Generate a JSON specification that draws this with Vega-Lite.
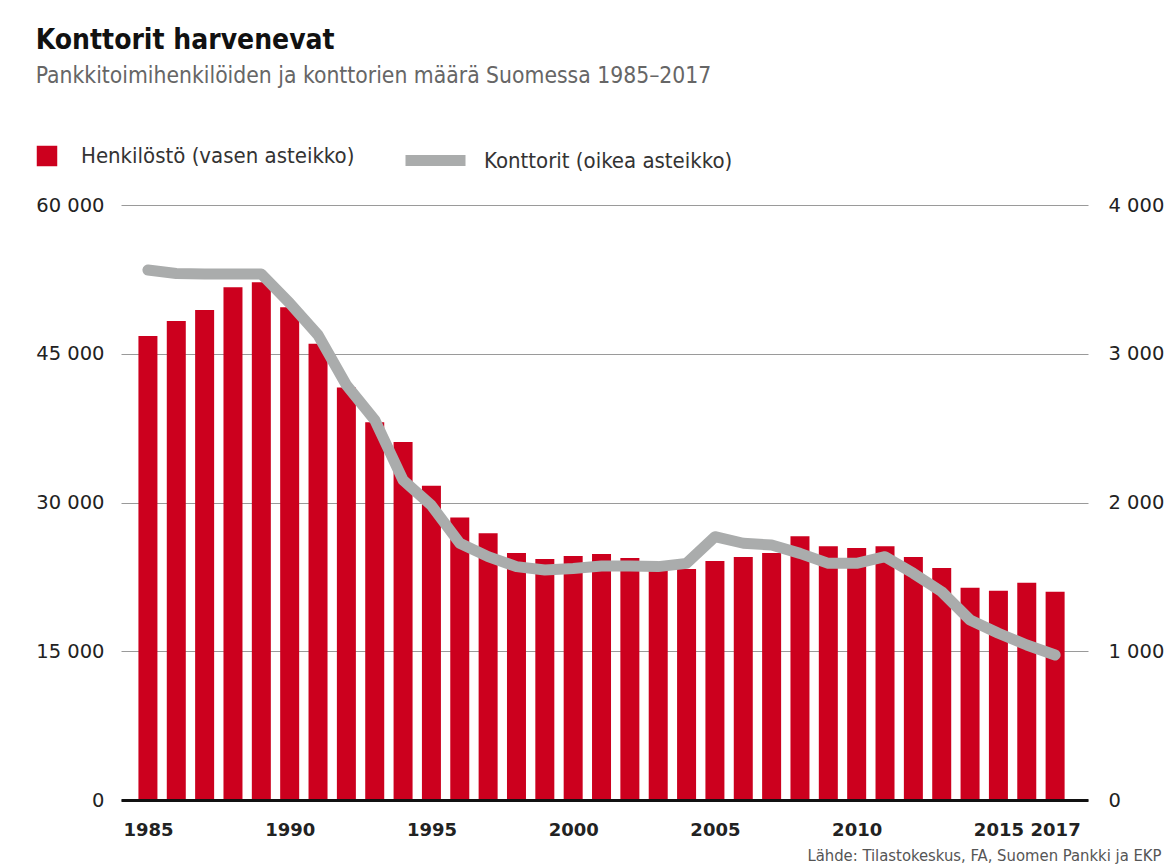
{
  "$schema": "https://vega.github.io/schema/vega-lite/v6.json",
  "width": 967,
  "height": 595,
  "autosize": {"type": "none"},
  "padding": {"left": 121, "top": 205, "right": 88, "bottom": 68},
  "background": "white",
  "config": {
    "font": "DejaVu Sans Condensed, DejaVu Sans, sans-serif",
    "view": {"stroke": null}
  },
  "title": {
    "text": "Konttorit harvenevat",
    "subtitle": "Pankkitoimihenkilöiden ja konttorien määrä Suomessa 1985–2017",
    "anchor": "start",
    "offset": 37,
    "fontSize": 28,
    "fontWeight": "bold",
    "color": "#111111",
    "subtitleFontSize": 22.7,
    "subtitleColor": "#666666",
    "subtitlePadding": 10,
    "limit": 1100
  },
  "data": {
    "values": [
      {"year": 1985, "henkilosto": 46800, "konttorit": 3563},
      {"year": 1986, "henkilosto": 48300, "konttorit": 3540},
      {"year": 1987, "henkilosto": 49400, "konttorit": 3536},
      {"year": 1988, "henkilosto": 51700, "konttorit": 3536},
      {"year": 1989, "henkilosto": 52200, "konttorit": 3536},
      {"year": 1990, "henkilosto": 49700, "konttorit": 3340},
      {"year": 1991, "henkilosto": 46000, "konttorit": 3126},
      {"year": 1992, "henkilosto": 41600, "konttorit": 2790},
      {"year": 1993, "henkilosto": 38100, "konttorit": 2555},
      {"year": 1994, "henkilosto": 36100, "konttorit": 2150},
      {"year": 1995, "henkilosto": 31700, "konttorit": 1980},
      {"year": 1996, "henkilosto": 28500, "konttorit": 1726},
      {"year": 1997, "henkilosto": 26900, "konttorit": 1636},
      {"year": 1998, "henkilosto": 24900, "konttorit": 1569},
      {"year": 1999, "henkilosto": 24300, "konttorit": 1546},
      {"year": 2000, "henkilosto": 24600, "konttorit": 1557},
      {"year": 2001, "henkilosto": 24800, "konttorit": 1573},
      {"year": 2002, "henkilosto": 24400, "konttorit": 1573},
      {"year": 2003, "henkilosto": 23500, "konttorit": 1569},
      {"year": 2004, "henkilosto": 23300, "konttorit": 1591},
      {"year": 2005, "henkilosto": 24100, "konttorit": 1770},
      {"year": 2006, "henkilosto": 24500, "konttorit": 1726},
      {"year": 2007, "henkilosto": 24900, "konttorit": 1714},
      {"year": 2008, "henkilosto": 26600, "konttorit": 1658},
      {"year": 2009, "henkilosto": 25600, "konttorit": 1591},
      {"year": 2010, "henkilosto": 25400, "konttorit": 1591},
      {"year": 2011, "henkilosto": 25600, "konttorit": 1636},
      {"year": 2012, "henkilosto": 24500, "konttorit": 1524},
      {"year": 2013, "henkilosto": 23400, "konttorit": 1400},
      {"year": 2014, "henkilosto": 21400, "konttorit": 1210},
      {"year": 2015, "henkilosto": 21100, "konttorit": 1121},
      {"year": 2016, "henkilosto": 21900, "konttorit": 1042},
      {"year": 2017, "henkilosto": 21000, "konttorit": 975}
    ]
  },
  "encoding": {
    "x": {
      "field": "year",
      "type": "quantitative",
      "scale": {"domain": [1984.05, 2018.16], "nice": false, "zero": false, "padding": 0},
      "axis": {
        "orient": "bottom",
        "values": [1985, 1990, 1995, 2000, 2005, 2010, 2015, 2017],
        "format": "d",
        "grid": false,
        "ticks": false,
        "domain": true,
        "domainColor": "#111111",
        "domainWidth": 3,
        "labelFontSize": 18,
        "labelFontWeight": "bold",
        "labelColor": "#222222",
        "labelPadding": 21,
        "labelFont": "DejaVu Sans",
        "zindex": 1,
        "title": "Lähde: Tilastokeskus, FA, Suomen Pankki ja EKP",
        "titleFontSize": 16.5,
        "titleFontWeight": "normal",
        "titleColor": "#555555",
        "titleAnchor": "end",
        "titleAlign": "right",
        "titleBaseline": "middle",
        "titleLimit": 600,
        "titleX": 1040,
        "titleY": 55
      }
    }
  },
  "layer": [
    {
      "mark": {"type": "bar", "width": 19},
      "encoding": {
        "y": {
          "field": "henkilosto",
          "type": "quantitative",
          "scale": {"domain": [0, 60000], "nice": false},
          "axis": {
            "orient": "left",
            "values": [0, 15000, 30000, 45000, 60000],
            "labelExpr": "replace(format(datum.value, ','), ',', ' ')",
            "grid": true,
            "gridColor": "#9a9a9a",
            "gridWidth": 1,
            "domain": false,
            "ticks": false,
            "labelPadding": 17,
            "labelFontSize": 19.5,
            "labelFont": "DejaVu Sans",
            "labelColor": "#222222",
            "title": null
          }
        },
        "color": {
          "datum": "Henkilöstö (vasen asteikko)",
          "type": "nominal",
          "scale": {"range": ["#cc001e"]},
          "legend": {
            "orient": "none",
            "legendX": -85,
            "legendY": -60,
            "title": null,
            "symbolType": "square",
            "symbolSize": 420,
            "symbolStrokeWidth": 0,
            "labelFontSize": 22,
            "labelColor": "#333333",
            "labelOffset": 23,
            "labelLimit": 500,
            "padding": 0
          }
        }
      }
    },
    {
      "mark": {"type": "line", "strokeWidth": 11, "strokeCap": "round", "strokeJoin": "round"},
      "encoding": {
        "y": {
          "field": "konttorit",
          "type": "quantitative",
          "scale": {"domain": [0, 4000], "nice": false},
          "axis": {
            "orient": "right",
            "values": [0, 1000, 2000, 3000, 4000],
            "labelExpr": "replace(format(datum.value, ','), ',', ' ')",
            "grid": false,
            "domain": false,
            "ticks": false,
            "labelPadding": 20,
            "labelFontSize": 19.5,
            "labelFont": "DejaVu Sans",
            "labelColor": "#222222",
            "title": null
          }
        },
        "stroke": {
          "datum": "Konttorit (oikea asteikko)",
          "type": "nominal",
          "scale": {"range": ["#aaacac"]},
          "legend": {
            "orient": "none",
            "legendX": 279,
            "legendY": -80,
            "title": null,
            "symbolType": "stroke",
            "symbolSize": 3600,
            "symbolStrokeWidth": 11,
            "labelFontSize": 22,
            "labelColor": "#333333",
            "labelOffset": 13,
            "labelLimit": 500,
            "padding": 0
          }
        }
      }
    }
  ],
  "resolve": {"scale": {"y": "independent"}}
}
